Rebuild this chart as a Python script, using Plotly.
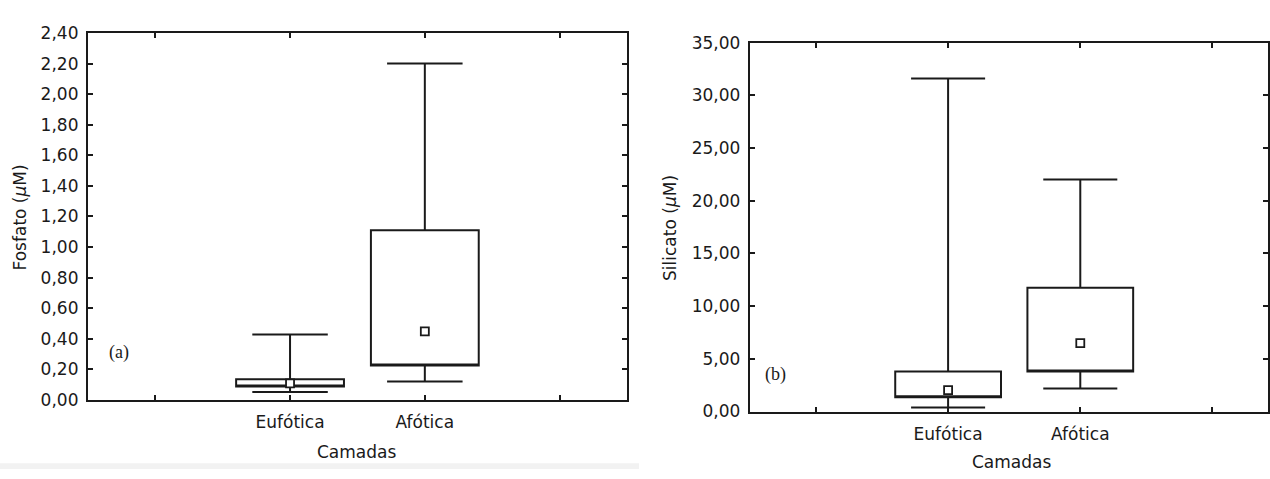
import plotly.graph_objects as go

# ---- data ----
categories = ["Eufótica", "Afótica"]
cat_pos = list(range(len(categories)))

fosfato_min = [0.052, 0.121]
fosfato_q1 = [0.088, 0.226]
fosfato_mean = [0.109, 0.449]
fosfato_q3 = [0.136, 1.11]
fosfato_max = [0.429, 2.20]

silicato_min = [0.39, 2.18]
silicato_q1 = [1.36, 3.79]
silicato_mean = [2.03, 6.48]
silicato_q3 = [3.79, 11.73]
silicato_max = [31.6, 22.0]

fosfato_ticks = [0.0, 0.2, 0.4, 0.6, 0.8, 1.0, 1.2, 1.4, 1.6, 1.8, 2.0, 2.2, 2.4]
silicato_ticks = [0, 5, 10, 15, 20, 25, 30, 35]
x_tickvals = [-1, 0, 1, 2]
x_ticktext = [""] + categories + [""]

W, H = 1270, 479
FONT = "DejaVu Sans"
INK = "#1a1a1a"

fig = go.Figure()

def add_panel(xa, ya, q1, mean, q3, lo, hi):
    fig.add_trace(go.Box(
        x=cat_pos, q1=q1, median=q1, q3=q3, lowerfence=lo, upperfence=hi,
        width=0.8, whiskerwidth=0.7, boxpoints=False,
        line=dict(color=INK, width=2), fillcolor="rgba(255,255,255,0)",
        xaxis=xa, yaxis=ya, showlegend=False, hoverinfo="skip",
    ))
    fig.add_trace(go.Scatter(
        x=cat_pos, y=mean, mode="markers",
        marker=dict(symbol="square", size=8, color="white",
                    line=dict(color=INK, width=1.8)),
        xaxis=xa, yaxis=ya, showlegend=False, hoverinfo="skip",
    ))

add_panel("x", "y", fosfato_q1, fosfato_mean, fosfato_q3, fosfato_min, fosfato_max)
add_panel("x2", "y2", silicato_q1, silicato_mean, silicato_q3, silicato_min, silicato_max)

axis_common = dict(
    showline=True, linecolor=INK, linewidth=2, mirror="ticks",
    ticks="inside", ticklen=5, tickwidth=1.5, tickcolor=INK,
    showgrid=False, zeroline=False,
    tickfont=dict(family=FONT, size=17, color=INK),
)

fig.update_layout(
    autosize=True,
    margin=dict(l=0, r=0, t=0, b=0),
    paper_bgcolor="white", plot_bgcolor="white",
    separators=",.",
    font=dict(family=FONT, size=17, color=INK),
    xaxis=dict(domain=[88 / W, 628 / W], range=[-1.5, 2.5],
               tickmode="array", tickvals=x_tickvals, ticktext=x_ticktext,
               anchor="y", ticklabelstandoff=6, **axis_common),
    yaxis=dict(domain=[1 - 407 / H, 1 - 24 / H], range=[0, 2.4],
               tickmode="array", tickvals=fosfato_ticks, tickformat=".2f",
               anchor="x", ticklabelstandoff=4, **axis_common),
    xaxis2=dict(domain=[751 / W, 1.0], range=[-1.5, 2.42],
                tickmode="array", tickvals=x_tickvals, ticktext=x_ticktext,
                anchor="y2", ticklabelstandoff=6, **axis_common),
    yaxis2=dict(domain=[1 - 419 / H, 1 - 34 / H], range=[0, 35],
                tickmode="array", tickvals=silicato_ticks, tickformat=".2f",
                anchor="x2", ticklabelstandoff=4, **axis_common),
)

ann_font = dict(family=FONT, size=17, color=INK)
serif_font = dict(family="Liberation Serif", size=18, color=INK)

annotations = [
    dict(text="Fosfato (<i>μ</i>M)", x=20.5 / W, y=1 - 216 / H, textangle=-90, font=ann_font),
    dict(text="Silicato (<i>μ</i>M)", x=671 / W, y=1 - 227.5 / H, textangle=-90, font=ann_font),
    dict(text="Camadas", x=357 / W, y=1 - 461 / H, font=ann_font),
    dict(text="Camadas", x=1013 / W, y=1 - 472 / H, font=ann_font),
    dict(text="(a)", x=119 / W, y=1 - 357 / H, font=serif_font),
    dict(text="(b)", x=777 / W, y=1 - 380 / H, font=serif_font),
]
for a in annotations:
    fig.add_annotation(xref="paper", yref="paper", xanchor="center", yanchor="middle",
                       showarrow=False, **a)

# light grey strip at the bottom of the left panel image
fig.add_shape(type="rect", xref="paper", yref="paper", x0=0, x1=640 / W, y0=0, y1=6 / H,
              fillcolor="#f2f2f2", line=dict(width=0), layer="below")

post = (
    "document.documentElement.style.height='100%';"
    "document.documentElement.style.margin='0';"
    "document.body.style.height='100%';"
    "document.body.style.margin='0';"
    "document.body.style.overflow='hidden';"
    "var gd=document.getElementById('{plot_id}');"
    "gd.parentElement.style.height='100%';"
    "gd.parentElement.style.width='100%';"
    "gd.style.height='100%';gd.style.width='100%';"
    "Plotly.Plots.resize(gd);"
)

fig.write_html(
    "out.html",
    default_width="100%",
    default_height="100%",
    config={"displayModeBar": False, "responsive": True},
    post_script=post,
)
